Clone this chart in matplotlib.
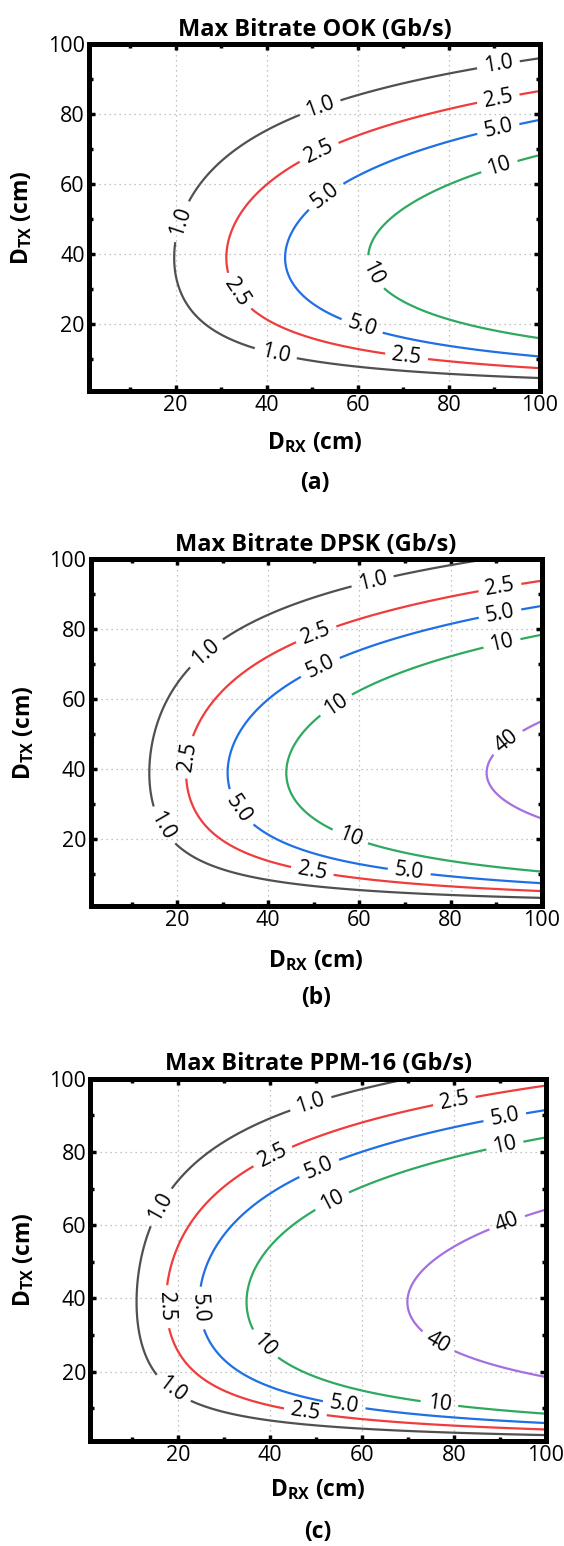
import numpy as np
import matplotlib
matplotlib.use("Agg")
import matplotlib.pyplot as plt
from matplotlib.ticker import MultipleLocator

# Данные
titles = ["Max Bitrate OOK (Gb/s)", "Max Bitrate DPSK (Gb/s)", "Max Bitrate PPM-16 (Gb/s)"]
tags = ["(a)", "(b)", "(c)"]
levels_ook = [1.0, 2.5, 5.0, 10]
levels_dpsk = [1.0, 2.5, 5.0, 10, 40]
levels_ppm = [1.0, 2.5, 5.0, 10, 40]
# D_RX (cm), где достигается 1 Gb/s при лучшем D_TX
rx_at_1gbps = [19.7, 13.9, 11.05]
# D_TX (cm) с максимальной скоростью
tx_best = [39, 39, 39]
# диапазон осей (cm)
d_min, d_max = 1, 100

level_colors = {1.0: "#505050", 2.5: "#f03c3c", 5.0: "#1f6fe5", 10: "#2eaa60", 40: "#a66fe0"}
level_text = {1.0: "1.0", 2.5: "2.5", 5.0: "5.0", 10: "10", 40: "40"}

# места подписей изолиний (D_RX, D_TX)
label_spots = [
    [(21.4, 49.3), (51.8, 81.6), (90.9, 93.9), (41.9, 11.2),
     (33.7, 29.3), (51.8, 68.3), (90.9, 84.0), (70.7, 10.6),
     (53.0, 56.5), (90.9, 75.5), (60.9, 19.3),
     (63.6, 34.8), (90.9, 65.8)],
    [(62.9, 93.6), (26.7, 72.7), (16.8, 23.8),
     (90.9, 91.4), (50.7, 77.9), (23.2, 43.3), (49.6, 10.5),
     (90.9, 84.1), (51.5, 68.9), (33.8, 29.0), (70.9, 10.5),
     (91.3, 75.8), (54.6, 58.9), (57.9, 20.5),
     (92.4, 47.9)],
    [(48.9, 93.2), (16.9, 64.5), (18.8, 15.0),
     (80.2, 93.2), (40.7, 78.6), (17.7, 37.7), (47.7, 8.8),
     (91.1, 89.1), (50.9, 75.0), (24.8, 37.3), (56.1, 10.5),
     (91.1, 81.5), (53.6, 66.4), (38.75, 27.3), (76.8, 10.9),
     (91.5, 60.9), (76.4, 27.7)],
]

plt.rcParams['font.family'] = ['Open Sans', 'DejaVu Sans']
plt.rcParams['mathtext.fontset'] = 'custom'
plt.rcParams['mathtext.bf'] = 'Open Sans:bold'
plt.rcParams['mathtext.rm'] = 'Open Sans'
plt.rcParams['mathtext.default'] = 'bf'

fig = plt.figure(figsize=(5.64, 15.46), dpi=100)
rects = [[0.1578, 0.7471, 0.7996, 0.2245],
         [0.1605, 0.4140, 0.8000, 0.2244],
         [0.1601, 0.0679, 0.8080, 0.2343]]
xlabel_off = [52, 55, 49]   # пикселей ниже оси
tag_off = [92, 92, 91]

rx = np.linspace(d_min, d_max, 500)
tx = np.linspace(d_min, d_max, 500)
RX, TX = np.meshgrid(rx, tx)

all_levels = [levels_ook, levels_dpsk, levels_ppm]

for i in range(3):
    ax = fig.add_axes(rects[i])
    r = TX / tx_best[i]
    rate = (RX / rx_at_1gbps[i]) ** 2 * r ** 2 * np.exp(1 - r ** 2)

    lv = all_levels[i]
    cs = ax.contour(RX, TX, rate, levels=lv, colors=[level_colors[l] for l in lv],
                    linewidths=1.6)
    ax.clabel(cs, lv, inline=True, fmt=level_text, fontsize=15, colors='k',
              manual=label_spots[i], inline_spacing=7)

    ax.set_xlim(d_min, d_max)
    ax.set_ylim(d_min, d_max)
    ax.xaxis.set_major_locator(MultipleLocator(20))
    ax.yaxis.set_major_locator(MultipleLocator(20))
    ax.xaxis.set_minor_locator(MultipleLocator(10))
    ax.yaxis.set_minor_locator(MultipleLocator(10))
    ax.tick_params(which='both', direction='in', top=True, right=True, labelsize=15.5)
    ax.tick_params(which='major', length=4.5, width=2.5, pad=3)
    ax.tick_params(which='minor', length=3, width=2.5)
    ax.grid(True, which='major', linestyle=(0, (1, 3)), color='#b0b0b0', linewidth=0.9)
    for s in ax.spines.values():
        s.set_linewidth(3.6)

    ax.set_title(titles[i], fontsize=17, fontweight='bold', pad=6)
    ax.set_xlabel("$D_{RX}$ (cm)", fontsize=16.5, fontweight='bold', va='center')
    ax.set_ylabel("$D_{TX}$ (cm)", fontsize=16.5, fontweight='bold', va='center')
    h_px = rects[i][3] * 1546
    w_px = rects[i][2] * 564
    ax.xaxis.set_label_coords(0.5, -xlabel_off[i] / h_px)
    ax.yaxis.set_label_coords(-67 / w_px, 0.5)
    ax.text(0.5, -tag_off[i] / h_px, tags[i], transform=ax.transAxes, ha='center',
            va='center', fontsize=16.5, fontweight='bold')

fig.savefig("out.png", dpi=100)
